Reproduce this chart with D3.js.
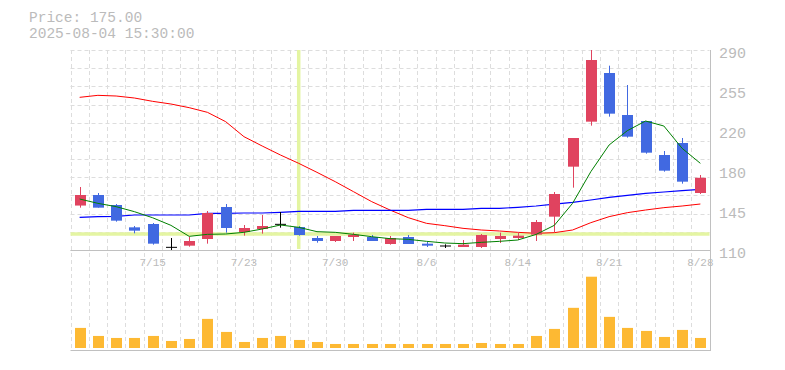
<!DOCTYPE html>
<html>
<head>
<meta charset="utf-8">
<script src="https://cdn.jsdelivr.net/npm/d3@7.9.0/dist/d3.min.js"></script>
<style>
  body { margin: 0; background: #fff; }
  svg { display: block; }
  text { font-family: "Liberation Mono", "DejaVu Sans Mono", monospace; fill: #bbb; }
</style>
</head>
<body>
<svg width="785" height="370"></svg>
<script>
// trading days 7/9 .. 8/28
const dates = ['7/9','7/10','7/11','7/14','7/15','7/16','7/17','7/18','7/22','7/23',
  '7/24','7/25','7/28','7/29','7/30','7/31','8/1','8/4','8/5','8/6',
  '8/7','8/8','8/12','8/13','8/14','8/15','8/18','8/19','8/20','8/21',
  '8/22','8/25','8/26','8/27','8/28'];
const tickDates = ['7/15','7/23','7/30','8/6','8/14','8/21','8/28'];

const open  = [150,159.5,150.5,130.4,133.4,112.4,113.9,119.9,148.7,126.2,128.9,133.1,130.7,120.8,118.1,121.7,121.7,115.4,121.7,115.7,113.6,112.7,112.7,119.9,120.8,123.8,140,185,225.5,269.3,231.5,226.1,195.5,206.3,161.3];
const close = [159.5,148.1,136.4,127.4,115.7,112.4,118.1,143.3,129.8,129.8,131.6,133.1,123.5,118.1,122.6,123.8,118.1,120.8,115.4,113.9,113.6,114.8,123.5,122.6,122.9,135.2,160.4,210.8,281,232.7,212,197.6,181.4,171.5,175];
const high  = [166.7,161.3,151.4,131.6,134.3,120.8,122,145.1,151.4,132.5,141.5,144.2,131.6,122.6,122.6,125.6,123.5,122.6,123.5,117.2,115.1,119,124.4,125.6,126.2,137,162.2,210.8,290,275.9,258.5,226.1,199.1,210.8,177.5];
const low   = [148.1,148.1,135.5,125,114.8,110,113,115.7,125.6,122.9,124.7,130.1,122.9,116.6,117.2,118.1,118.1,114.8,115.4,112.7,111.8,112.7,111.8,116.3,119,118.1,126.2,166.1,221.9,230,211.1,196.7,180.5,169.7,160.4];

const maShort = [155.9,152,149,144.5,139,132.2,122.3,124.1,124.4,125.9,128.9,132.5,130.4,126.5,125.9,124.1,122,120.2,119.6,117.8,116.3,115.7,116.9,117.8,119,124,132.2,152,180.5,204.5,217.4,226.1,221.6,201.5,188];
const maMid   = [139.4,140,140.3,141.5,141.5,141.5,141.5,143,143,143.3,143.3,143.9,144.8,144.8,144.8,145.7,145.7,145.7,145.7,146.6,146.6,146.6,147.5,147.5,148.4,149.6,151.2,152.9,155,157.4,159.2,161,162.2,163.4,164.6];
const maLong  = [247.4,249.2,248.6,246.8,243.8,241.4,238.1,233.9,225.5,212,203.6,195.5,188,179.9,171.5,162.5,153.5,146,139.1,134,131.9,129.5,128,127.1,125.9,125,125.6,128,134.6,140,143.6,146,148.1,149.6,151.4];

const volume = [20,12,10,10,12,7,9,29,16,6,10,12,8,6,4,4,4,4,4,4,4,4,5,4,4,12,19,40,71,31,20,17,11,18,10];

const yTicks = [110,146,182,218,254,290];
const yTickLabels = ['110','145','180','220','255','290'];

const svg = d3.select('svg');
const plotL = 70.5, plotR = 709.5, plotT = 50, plotB = 250;
const volBottom = 348, volBase = 350;

const x = d3.scaleBand().domain(dates).range([plotL, plotR]);
const cx = d => x(d) + x.bandwidth() / 2;
const y = d3.scaleLinear().domain([110, 290]).range([plotB, plotT]);
const yv = d3.scaleLinear().domain([0, 71]).range([volBottom, volBottom - 71.3]);

// grid
const grid = svg.append('g').attr('stroke', '#ddd').attr('stroke-dasharray', '4,3');
dates.forEach(d => {
  grid.append('line').attr('x1', Math.round(x(d)) + 0.5).attr('x2', Math.round(x(d)) + 0.5)
    .attr('y1', plotT).attr('y2', volBase);
});
d3.range(12).forEach(k => {
  const yy = Math.round(plotT + k * (plotB - plotT) / 11) + 0.5;
  grid.append('line').attr('x1', plotL).attr('x2', plotR).attr('y1', yy).attr('y2', yy);
});

// frame
const frame = svg.append('g').attr('stroke', '#c0c0c0');
frame.append('line').attr('x1', plotL).attr('x2', 710.5).attr('y1', plotB + 0.5).attr('y2', plotB + 0.5);
frame.append('line').attr('x1', plotL).attr('x2', 710.5).attr('y1', volBase + 0.5).attr('y2', volBase + 0.5);
frame.append('line').attr('x1', 710.5).attr('x2', 710.5).attr('y1', plotT).attr('y2', volBase + 1);

// crosshair highlight
const hiX = cx('7/28');
svg.append('line').attr('x1', hiX).attr('x2', hiX).attr('y1', plotT).attr('y2', plotB - 1)
  .attr('stroke', '#e4f5a2').attr('stroke-width', 3.5);
svg.append('line').attr('x1', plotL).attr('x2', plotR).attr('y1', 234).attr('y2', 234)
  .attr('stroke', '#e4f5a2').attr('stroke-width', 3.5);

// moving averages
const line = arr => d3.line().x((v, i) => cx(dates[i])).y(v => y(v))(arr);
svg.append('path').attr('d', line(maLong)).attr('fill', 'none').attr('stroke', '#ff0000').attr('stroke-width', 1);
svg.append('path').attr('d', line(maMid)).attr('fill', 'none').attr('stroke', '#0000ff').attr('stroke-width', 1.2);

// candles
const bw = 11;
dates.forEach((d, i) => {
  const up = close[i] > open[i], doji = close[i] === open[i];
  const col = doji ? '#000' : (up ? '#e0435f' : '#4169e1');
  const xc = Math.round(cx(d)) + 0.5;
  svg.append('line').attr('x1', xc).attr('x2', xc)
    .attr('y1', y(Math.min(high[i], 290))).attr('y2', y(low[i])).attr('stroke', col);
  if (doji) {
    svg.append('line').attr('x1', xc - bw / 2).attr('x2', xc + bw / 2)
      .attr('y1', y(open[i])).attr('y2', y(open[i])).attr('stroke', col);
  } else {
    svg.append('rect').attr('x', xc - bw / 2).attr('width', bw)
      .attr('y', y(Math.max(open[i], close[i])))
      .attr('height', Math.abs(y(open[i]) - y(close[i])))
      .attr('fill', col);
  }
});

svg.append('path').attr('d', line(maShort)).attr('fill', 'none').attr('stroke', '#008000').attr('stroke-width', 1);

// volume
svg.selectAll('rect.vol').data(volume).join('rect').attr('class', 'vol')
  .attr('x', (v, i) => Math.round(cx(dates[i])) + 0.5 - bw / 2).attr('width', bw)
  .attr('y', v => yv(v)).attr('height', v => volBottom - yv(v))
  .attr('fill', '#fdb933');

// axes labels
svg.selectAll('text.yt').data(yTicks).join('text').attr('class', 'yt')
  .attr('x', 719).attr('y', v => y(v) + 7.5)
  .style('font-size', '15px').text((v, i) => yTickLabels[i]);
svg.selectAll('text.xt').data(tickDates).join('text').attr('class', 'xt')
  .attr('x', d => cx(d)).attr('y', 266).attr('text-anchor', 'middle')
  .style('font-size', '11px').text(d => d);

// header
svg.append('text').attr('x', 29).attr('y', 21.5).style('font-size', '14.5px').text('Price: 175.00');
svg.append('text').attr('x', 29).attr('y', 37.5).style('font-size', '14.5px').text('2025-08-04 15:30:00');
</script>
</body>
</html>
